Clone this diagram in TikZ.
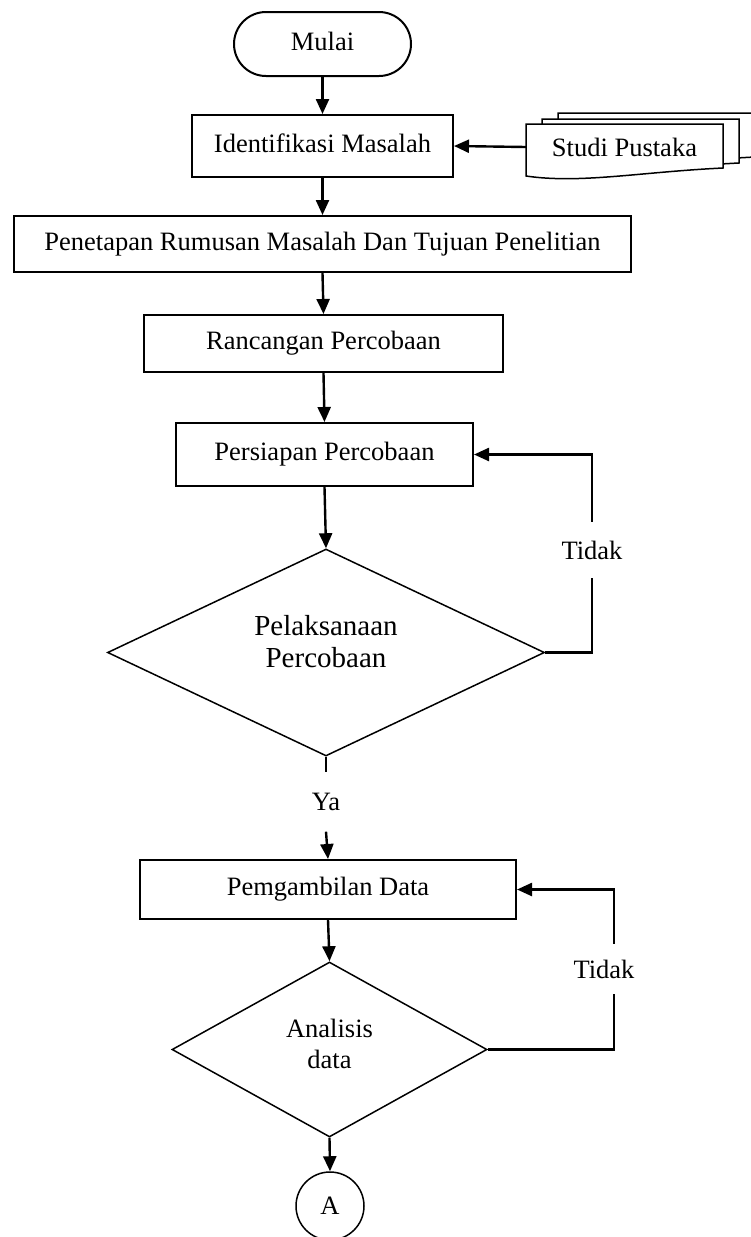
\documentclass[tikz,border=0pt]{standalone}
\usepackage{fontspec}
\setmainfont{Liberation Serif}
\usetikzlibrary{arrows.meta,shapes.geometric}
\tikzset{>={Triangle[width=13pt,length=15pt]}}
\tikzset{
  kotak/.style={draw, line width=2pt, inner sep=0pt, text height=18pt, text depth=6pt},
  terminal/.style={kotak, rounded corners=32pt},
  keputusan/.style={draw, diamond, line width=1.5pt, inner sep=0pt},
  celah/.style={inner sep=0pt},
  alur/.style={->, line width=2.4pt},
  garis/.style={line width=2.4pt}
}

\begin{document}
\begin{tikzpicture}[x=1pt, y=-1pt]

  \fontsize{26.5}{31}\selectfont

  \useasboundingbox (0,0) rectangle (751,1237);

  % tumpukan dokumen studi pustaka
  \foreach \dx/\dy in {32/-11, 16/-5, 0/0}
    \draw[fill=white, line width=1.5pt, shift={(\dx,\dy)}]
      (526,124) -- (723,124) -- (723,168)
      .. controls (640,172) and (580,184) .. (526,176) -- cycle;

  \node[terminal, minimum width=177pt, minimum height=64pt] (mulai) at (322.5,44) {Mulai};
  \node[kotak, minimum width=261pt, minimum height=62pt] (identifikasi) at (322.5,146) {Identifikasi Masalah};
  \node[celah, minimum width=197pt, minimum height=40pt] (studi) at (624.5,147) {Studi Pustaka};
  \node[kotak, minimum width=617pt, minimum height=56pt] (penetapan) at (322.5,244)
    {Penetapan Rumusan Masalah Dan Tujuan Penelitian};
  \node[kotak, minimum width=359pt, minimum height=57pt] (rancangan) at (323.5,343.5) {Rancangan Percobaan};
  \node[kotak, minimum width=297pt, minimum height=63pt] (persiapan) at (324.5,454.5) {Persiapan Percobaan};

  \node[keputusan, minimum width=437pt, minimum height=207pt] (pelaksanaan) at (326,652.5) {};
  \node[align=center, font=\fontsize{29}{32}\selectfont] (pelaksanaanteks) at (326,642) {Pelaksanaan\\Percobaan};
  \node[celah, minimum width=66pt, minimum height=56pt] (tidaka) at (592,550) {Tidak};
  \node[celah, minimum height=59pt] (ya) at (326,802) {Ya};

  \node[kotak, minimum width=376pt, minimum height=59pt] (pengambilan) at (328,889.5) {Pemgambilan Data};
  \node[keputusan, minimum width=315pt, minimum height=175pt] (analisis) at (329.5,1049.5) {};
  \node[align=center] (analisisteks) at (329.5,1044) {Analisis\\data};
  \node[celah, minimum width=66pt, minimum height=50pt] (tidakb) at (604,969) {Tidak};

  \node[draw, circle, line width=1.5pt, minimum size=68pt, inner sep=0pt] (konektor) at (330,1206) {A};

  % alur utama
  \draw[alur] (mulai.south) -- (identifikasi.north);
  \draw[alur] (studi.west) -- (identifikasi.east);
  \draw[alur] (identifikasi.south) -- (penetapan.north);
  \draw[alur] (penetapan.south) -- (rancangan.north);
  \draw[alur] (rancangan.south) -- (persiapan.north);
  \draw[alur] (persiapan.south) -- (pelaksanaan.north);
  \draw[garis] (pelaksanaan.south) -- (ya.north);
  \draw[alur] (ya.south) -- (pengambilan.north);
  \draw[alur] (pengambilan.south) -- (analisis.north);
  \draw[alur] (analisis.south) -- (konektor.north);

  % umpan balik
  \draw[garis] (pelaksanaan.east) -| (tidaka.south);
  \draw[alur] (tidaka.north) |- (persiapan.east);
  \draw[garis] (analisis.east) -| ([xshift=10pt]tidakb.south);
  \draw[alur] ([xshift=10pt]tidakb.north) |- (pengambilan.east);

\end{tikzpicture}
\end{document}
